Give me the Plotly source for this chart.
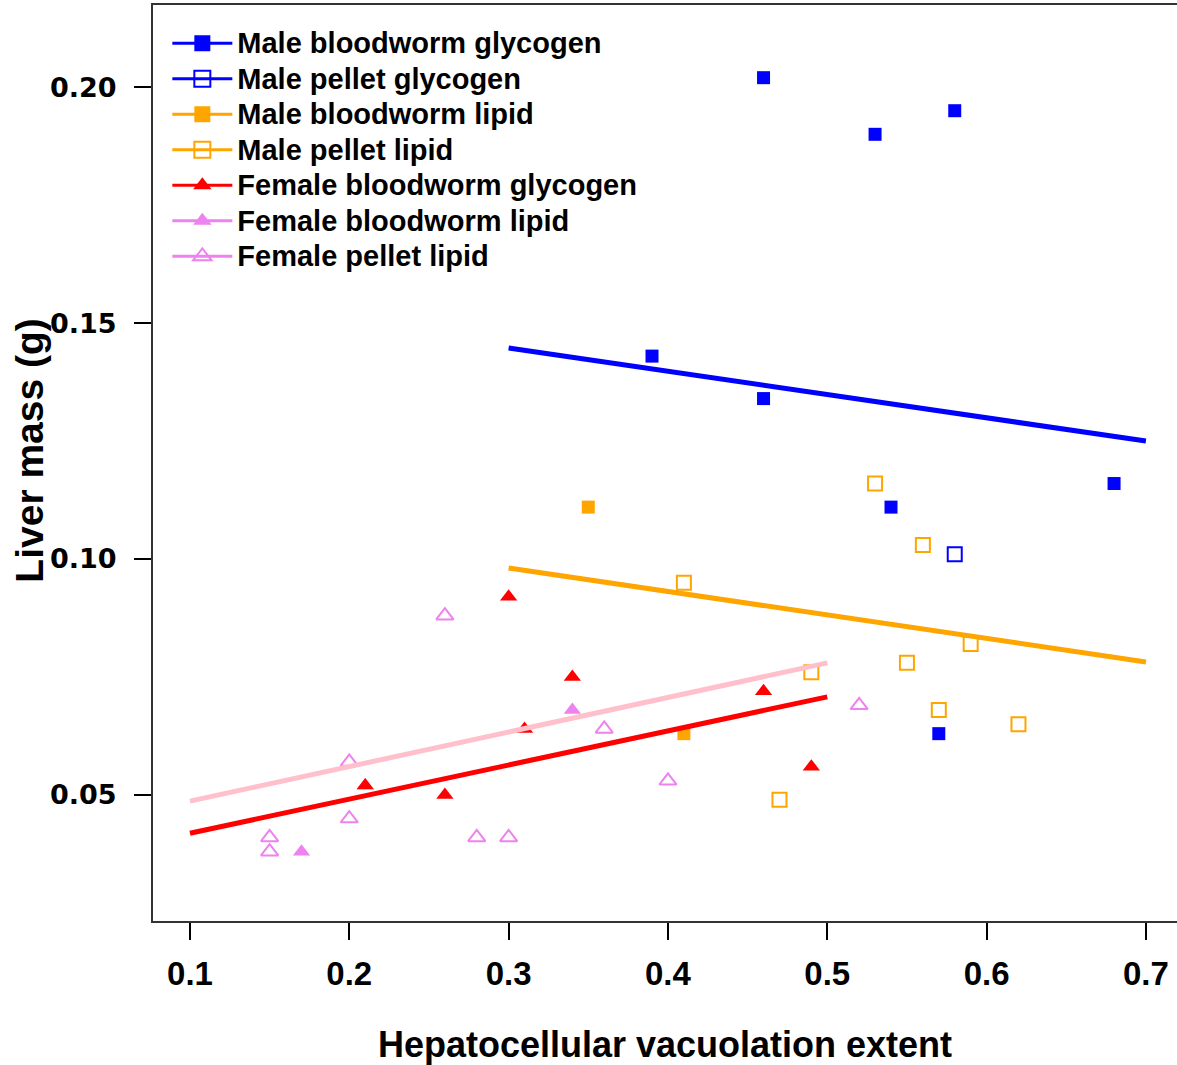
import plotly.graph_objects as go

# ---- data ----
mbg_x = [0.46, 0.53, 0.58, 0.39, 0.46, 0.54, 0.68, 0.57]
mbg_y = [0.202, 0.190, 0.195, 0.143, 0.134, 0.111, 0.116, 0.063]

mpg_x = [0.58]
mpg_y = [0.101]

mbl_x = [0.35, 0.41]
mbl_y = [0.111, 0.063]

mpl_x = [0.53, 0.56, 0.41, 0.55, 0.59, 0.49, 0.57, 0.62, 0.47]
mpl_y = [0.116, 0.103, 0.095, 0.078, 0.082, 0.076, 0.068, 0.065, 0.049]

fbg_x = [0.30, 0.34, 0.46, 0.31, 0.21, 0.26, 0.49]
fbg_y = [0.092, 0.075, 0.072, 0.064, 0.052, 0.050, 0.056]

fbl_x = [0.34, 0.17, 0.21]
fbl_y = [0.068, 0.038, 0.052]

fpl_x = [0.26, 0.20, 0.20, 0.15, 0.15, 0.28, 0.30, 0.36, 0.40, 0.52]
fpl_y = [0.088, 0.057, 0.045, 0.041, 0.038, 0.041, 0.041, 0.064, 0.053, 0.069]

# fitted regression lines (end points)
blue_fit_x = [0.3, 0.7]
blue_fit_y = [0.1447, 0.1250]
orange_fit_x = [0.3, 0.7]
orange_fit_y = [0.0981, 0.0782]
red_fit_x = [0.1, 0.5]
red_fit_y = [0.0419, 0.0708]
pink_fit_x = [0.1, 0.5]
pink_fit_y = [0.0487, 0.0780]

x_ticks = [0.1, 0.2, 0.3, 0.4, 0.5, 0.6, 0.7]
y_ticks = [0.05, 0.10, 0.15, 0.20]

legend_names = ["Male bloodworm glycogen", "Male pellet glycogen", "Male bloodworm lipid",
                "Male pellet lipid", "Female bloodworm glycogen", "Female bloodworm lipid",
                "Female pellet lipid"]
legend_colors = ["#0000FF", "#0000FF", "#FFA500", "#FFA500", "#FF0000", "#EE82EE", "#EE82EE"]
legend_symbols = ["square", "square-open", "square", "square-open",
                  "triangle-up", "triangle-up", "triangle-up-open"]

BLUE, ORANGE, RED, VIOLET, PINK = "#0000FF", "#FFA500", "#FF0000", "#EE82EE", "#FFC0CB"

fig = go.Figure()

def pts(x, y, color, symbol, size):
    fig.add_trace(go.Scatter(x=x, y=y, mode="markers", showlegend=False,
                             marker=dict(color=color, symbol=symbol, size=size,
                                         line=dict(width=2 if "open" in symbol else 0, color=color))))

pts(fbl_x, fbl_y, VIOLET, "triangle-up", 15)
pts(fpl_x, fpl_y, VIOLET, "triangle-up-open", 15)
pts(mbg_x, mbg_y, BLUE, "square", 13)
pts(mpg_x, mpg_y, BLUE, "square-open", 14)
pts(mbl_x, mbl_y, ORANGE, "square", 13)
pts(mpl_x, mpl_y, ORANGE, "square-open", 14)
pts(fbg_x, fbg_y, RED, "triangle-up", 15)

def fit(x, y, color):
    fig.add_trace(go.Scatter(x=x, y=y, mode="lines", showlegend=False,
                             line=dict(color=color, width=5)))

fit(blue_fit_x, blue_fit_y, BLUE)
fit(orange_fit_x, orange_fit_y, ORANGE)
fit(red_fit_x, red_fit_y, RED)
fit(pink_fit_x, pink_fit_y, PINK)

# legend entries
for name, col, sym in zip(legend_names, legend_colors, legend_symbols):
    fig.add_trace(go.Scatter(x=[None], y=[None], mode="lines+markers",
                             name="<span style='font-size:29px'>" + name + "</span>",
                             line=dict(color=col, width=3),
                             marker=dict(color=col, symbol=sym, size=16,
                                         line=dict(width=2 if "open" in sym else 0, color=col))))

FONT_B = "Liberation Sans, Arial, sans-serif"

fig.update_layout(
    width=1177, height=1065,
    margin=dict(l=153, r=0, t=5, b=144),
    plot_bgcolor="white", paper_bgcolor="white",
    showlegend=True,
    legend=dict(x=0.014, y=0.983, xanchor="left", yanchor="top",
                bgcolor="rgba(0,0,0,0)", borderwidth=0, itemwidth=60,
                font=dict(family=FONT_B, size=25, color="black", weight="bold"),
                tracegroupgap=0),
    xaxis=dict(range=[0.0768, 0.7195], tickvals=x_ticks, tickformat=".1f",
               ticks="outside", ticklen=17, tickwidth=1.5, tickcolor="black",
               ticklabelstandoff=5,
               showgrid=False, zeroline=False, showline=True, mirror=True,
               linecolor="#333333", linewidth=2,
               tickfont=dict(family=FONT_B, size=33, color="black", weight="bold"),
               title=dict(text="Hepatocellular vacuolation extent", standoff=41,
                          font=dict(family=FONT_B, size=36, color="black", weight="bold"))),
    yaxis=dict(range=[0.0233, 0.2174], tickvals=y_ticks, tickformat=".2f",
               ticks="outside", ticklen=17, tickwidth=1.5, tickcolor="black",
               ticklabelstandoff=12,
               showgrid=False, zeroline=False, showline=True, mirror=False,
               linecolor="#333333", linewidth=2,
               tickfont=dict(family="DejaVu Sans, Verdana, sans-serif", size=27,
                             color="black", weight="bold")),
    annotations=[dict(text="Liver mass (g)", textangle=-90, xref="paper", yref="paper",
                      x=0, y=0.5135, xanchor="center", yanchor="middle", xshift=-123,
                      showarrow=False,
                      font=dict(family=FONT_B, size=39, color="black", weight="bold"))],
)

fig.write_html("out.html", config={"displayModeBar": False},
               post_script="document.body.style.margin='0px';")
